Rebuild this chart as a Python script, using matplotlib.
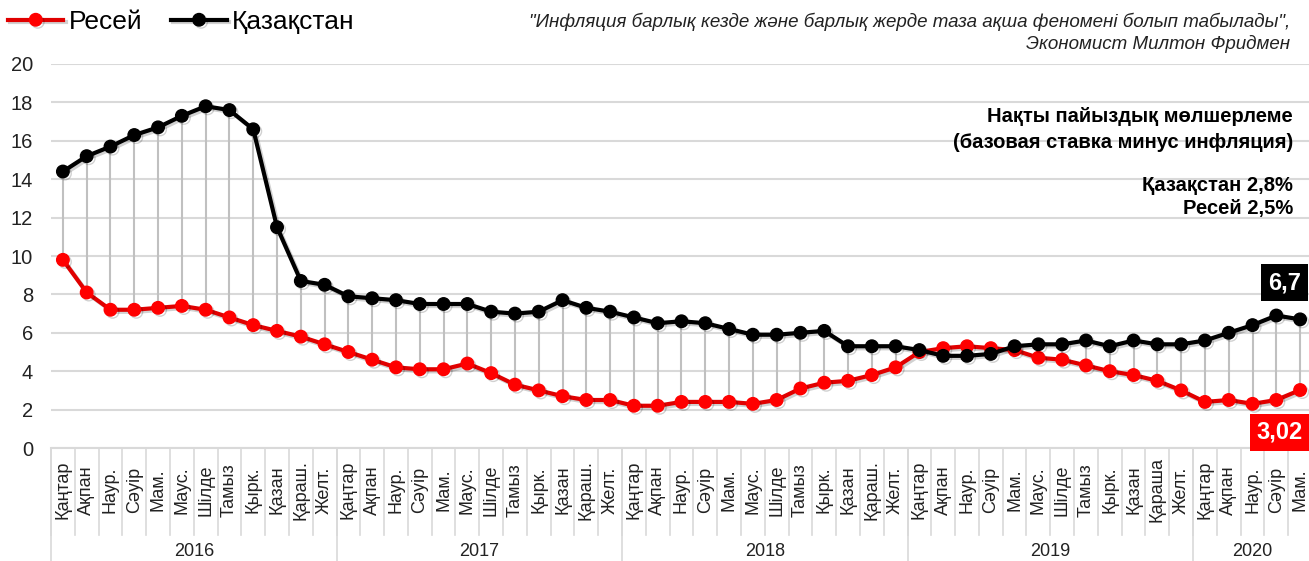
import numpy as np
import matplotlib
matplotlib.use("Agg")
import matplotlib.pyplot as plt
import matplotlib.transforms as mtransforms
import matplotlib.patheffects as pe

plt.rcParams['font.family'] = ['Liberation Sans', 'DejaVu Sans']

# ==========================================================
# Data
# ==========================================================

MONTHS = ["Қаңтар", "Ақпан", "Наур.", "Сәуір", "Мам.", "Маус.",
          "Шілде", "Тамыз", "Қырк.", "Қазан", "Қараш.", "Желт."]
MONTHS_2019 = ["Қаңтар", "Ақпан", "Наур.", "Сәуір", "Мам.", "Маус.",
               "Шілде", "Тамыз", "Қырк.", "Қазан", "Қараша", "Желт."]
MONTHS_2020 = ["Қаңтар", "Ақпан", "Наур.", "Сәуір", "Мам."]

month_labels = MONTHS * 3 + MONTHS_2019 + MONTHS_2020

years = ["2016", "2017", "2018", "2019", "2020"]
months_per_year = [12, 12, 12, 12, 5]

kazakhstan = [14.4, 15.2, 15.7, 16.3, 16.7, 17.3, 17.8, 17.6, 16.6, 11.5, 8.7, 8.5,
              7.9, 7.8, 7.7, 7.5, 7.5, 7.5, 7.1, 7.0, 7.1, 7.7, 7.3, 7.1,
              6.8, 6.5, 6.6, 6.5, 6.2, 5.9, 5.9, 6.0, 6.1, 5.3, 5.3, 5.3,
              5.1, 4.8, 4.8, 4.9, 5.3, 5.4, 5.4, 5.6, 5.3, 5.6, 5.4, 5.4,
              5.6, 6.0, 6.4, 6.9, 6.7]

russia = [9.8, 8.1, 7.2, 7.2, 7.3, 7.4, 7.2, 6.8, 6.4, 6.1, 5.8, 5.4,
          5.0, 4.6, 4.2, 4.1, 4.1, 4.4, 3.9, 3.3, 3.0, 2.7, 2.5, 2.5,
          2.2, 2.2, 2.4, 2.4, 2.4, 2.3, 2.5, 3.1, 3.4, 3.5, 3.8, 4.2,
          5.0, 5.2, 5.3, 5.2, 5.1, 4.7, 4.6, 4.3, 4.0, 3.8, 3.5, 3.0,
          2.4, 2.5, 2.3, 2.5, 3.02]

kz_last_label = "6,7"
ru_last_label = "3,02"

# ==========================================================
# Figure
# ==========================================================

W, H = 1309, 561
fig = plt.figure(figsize=(W / 100, H / 100), dpi=100)

ax_left, ax_right = 51, 1312
ax_top, ax_bottom = 64, 448
ax = fig.add_axes([ax_left / W, 1 - ax_bottom / H,
                   (ax_right - ax_left) / W, (ax_bottom - ax_top) / H])

x = np.arange(len(kazakhstan))

ax.set_xlim(-0.5, len(x) - 0.5)
ax.set_ylim(0, 20)
ax.set_yticks(np.arange(0, 21, 2))
ax.yaxis.grid(True, color="#d9d9d9", linewidth=1.5)
ax.set_axisbelow(True)
for s in ax.spines.values():
    s.set_visible(False)
ax.tick_params(axis="y", length=0, pad=13, labelsize=14.5, labelcolor="#222222")
ax.tick_params(axis="x", length=0, labelbottom=False)

# drop lines between the two series
ax.vlines(x, russia, kazakhstan, color="#c0c0c0", linewidth=1.5, zorder=2)

shadow = [pe.SimpleLineShadow(offset=(1.5, -1.5), alpha=0.18), pe.Normal()]

ax.plot(x, russia, color="#e00000", linewidth=3, marker="o",
        markersize=9, markerfacecolor="#ff0000", markeredgecolor="#ff0000",
        label="Ресей", zorder=3, path_effects=shadow)
ax.plot(x, kazakhstan, color="black", linewidth=3, marker="o",
        markersize=9, markerfacecolor="black", markeredgecolor="black",
        label="Қазақстан", zorder=4, path_effects=shadow)

# last value labels
ax.text(51.35, 8.6, kz_last_label, color="white", fontsize=17, fontweight="bold",
        ha="center", va="center", zorder=6,
        bbox=dict(boxstyle="square,pad=0.3", facecolor="black", edgecolor="none"))
ax.text(51.15, 0.82, ru_last_label, color="white", fontsize=17, fontweight="bold",
        ha="center", va="center", zorder=6, clip_on=False,
        bbox=dict(boxstyle="square,pad=0.3", facecolor="#ff0000", edgecolor="none"))

# category axis: months and years
trans = mtransforms.blended_transform_factory(ax.transData, ax.transAxes)
ax_h = ax_bottom - ax_top
month_end = -(535 - ax_bottom) / ax_h
year_end = -(H - ax_bottom + 5) / ax_h

ax.plot([-0.5, len(x) - 0.5], [0, 0], transform=trans, color="#d9d9d9",
        linewidth=1.5, clip_on=False)

for i, lab in enumerate(month_labels):
    ax.plot([i - 0.5, i - 0.5], [0, month_end], transform=trans,
            color="#d9d9d9", linewidth=1.2, clip_on=False)
    ax.text(i, -(490 - ax_bottom) / ax_h, lab, transform=trans, rotation=90,
            ha="center", va="center", fontsize=13, color="#222222")

start = 0
for yr, n in zip(years, months_per_year):
    ax.plot([start - 0.5, start - 0.5], [0, year_end], transform=trans,
            color="#d9d9d9", linewidth=1.2, clip_on=False)
    ax.text(start + (n - 1) / 2, -(551 - ax_bottom) / ax_h, yr,
            transform=trans, ha="center", va="center", fontsize=13,
            color="#222222")
    start += n

# legend
fig.legend(loc="center left", bbox_to_anchor=(8 / W, 1 - 22 / H),
           ncol=2, frameon=False, fontsize=19, handlelength=2.1,
           handletextpad=0.2, columnspacing=1.1, borderpad=0,
           borderaxespad=0)

# quote
fig.text(1290 / W, 1 - 22 / H,
         "\"Инфляция барлық кезде және барлық жерде таза ақша феномені болып табылады\",",
         ha="right", va="center", fontsize=13.5, style="italic", color="#222222")
fig.text(1290 / W, 1 - 44 / H, "Экономист Милтон Фридмен",
         ha="right", va="center", fontsize=13.5, style="italic", color="#222222")

# annotation
fig.text(1293 / W, 1 - 117 / H, "Нақты пайыздық мөлшерлеме",
         ha="right", va="center", fontsize=14.5, fontweight="bold")
fig.text(1293 / W, 1 - 142 / H, "(базовая ставка минус инфляция)",
         ha="right", va="center", fontsize=14.5, fontweight="bold")
fig.text(1293 / W, 1 - 185 / H, "Қазақстан 2,8%",
         ha="right", va="center", fontsize=14.5, fontweight="bold")
fig.text(1293 / W, 1 - 208 / H, "Ресей 2,5%",
         ha="right", va="center", fontsize=14.5, fontweight="bold")

fig.savefig("out.png", dpi=100, facecolor="white")
